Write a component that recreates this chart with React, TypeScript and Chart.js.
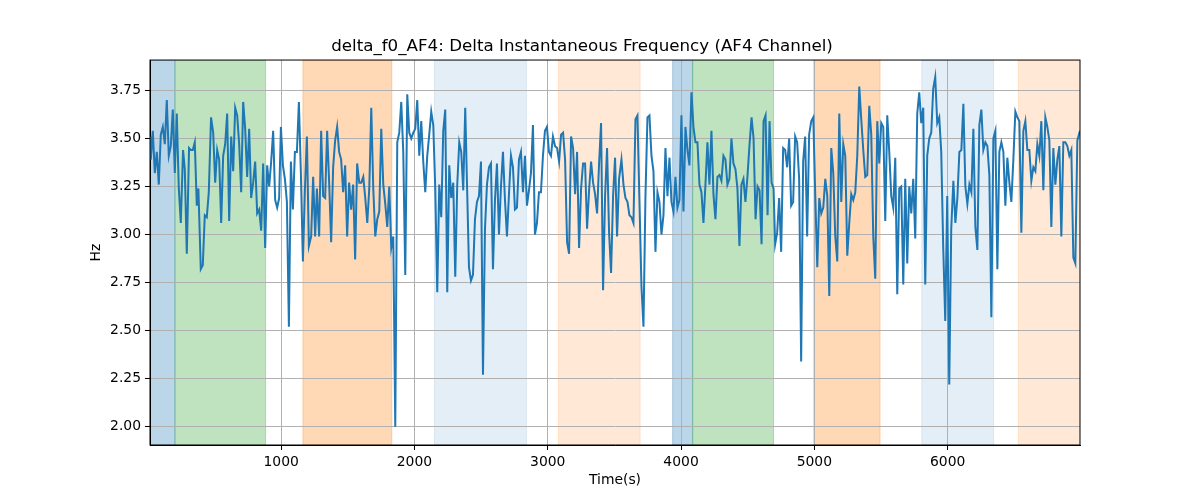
import React, { useEffect, useRef } from "react";
import { Chart, registerables } from "chart.js";

Chart.register(...registerables);

// time (s) and delta instantaneous frequency (Hz)
const timeS = [
  16, 22, 37, 52, 67, 82, 97, 112, 127, 142, 157, 172, 187, 202, 217, 232, 247, 264, 277, 292,
  309, 322, 337, 352, 367, 379, 397, 412, 427, 442, 457, 474, 490, 505, 520, 535, 550, 565, 580, 595,
  610, 625, 640, 655, 670, 685, 700, 715, 730, 745, 760, 775, 790, 805, 820, 835, 850, 865, 880, 895,
  910, 925, 940, 955, 970, 985, 998, 1013, 1028, 1043, 1058, 1073, 1088, 1103, 1118, 1133, 1148, 1163, 1178, 1193,
  1208, 1225, 1240, 1255, 1268, 1285, 1300, 1315, 1330, 1345, 1360, 1375, 1390, 1405, 1420, 1435, 1450, 1465, 1480, 1495,
  1510, 1525, 1540, 1555, 1570, 1586, 1601, 1616, 1631, 1646, 1661, 1676, 1691, 1706, 1721, 1736, 1751, 1766, 1781, 1796,
  1811, 1826, 1841, 1856, 1871, 1886, 1901, 1916, 1931, 1946, 1961, 1976, 1991, 2006, 2021, 2036, 2051, 2066, 2081, 2096,
  2111, 2126, 2141, 2156, 2171, 2186, 2201, 2216, 2231, 2246, 2261, 2276, 2291, 2306, 2321, 2336, 2351, 2366, 2381, 2394,
  2409, 2424, 2439, 2454, 2469, 2484, 2499, 2514, 2529, 2544, 2559, 2574, 2589, 2604, 2619, 2634, 2649, 2664, 2679, 2694,
  2709, 2724, 2739, 2754, 2769, 2784, 2799, 2814, 2829, 2844, 2859, 2874, 2889, 2904, 2919, 2934, 2949, 2964, 2979, 2994,
  3009, 3024, 3039, 3055, 3070, 3085, 3100, 3115, 3130, 3145, 3160, 3175, 3190, 3205, 3220, 3235, 3250, 3265, 3280, 3295,
  3310, 3325, 3340, 3355, 3370, 3385, 3400, 3415, 3430, 3445, 3460, 3475, 3490, 3505, 3520, 3535, 3553, 3568, 3583, 3598,
  3613, 3628, 3643, 3658, 3673, 3688, 3703, 3718, 3733, 3748, 3763, 3778, 3793, 3808, 3823, 3838, 3853, 3868, 3883, 3898,
  3913, 3928, 3943, 3958, 3973, 3988, 4003, 4018, 4033, 4048, 4063, 4078, 4093, 4108, 4123, 4138, 4153, 4168, 4183, 4198,
  4213, 4228, 4243, 4258, 4273, 4288, 4303, 4318, 4333, 4348, 4363, 4378, 4393, 4408, 4423, 4438, 4453, 4468, 4483, 4498,
  4513, 4529, 4544, 4559, 4574, 4589, 4604, 4619, 4634, 4649, 4664, 4679, 4694, 4706, 4721, 4736, 4751, 4766, 4781, 4796,
  4811, 4826, 4841, 4856, 4871, 4886, 4901, 4916, 4931, 4946, 4961, 4977, 4992, 5007, 5022, 5037, 5052, 5067, 5082, 5097,
  5112, 5127, 5142, 5157, 5172, 5187, 5202, 5217, 5232, 5247, 5262, 5277, 5292, 5307, 5322, 5337, 5352, 5367, 5382, 5397,
  5412, 5427, 5442, 5457, 5472, 5487, 5502, 5517, 5532, 5547, 5562, 5577, 5592, 5607, 5622, 5637, 5652, 5667, 5682, 5697,
  5712, 5727, 5742, 5757, 5772, 5787, 5802, 5817, 5832, 5847, 5862, 5877, 5892, 5907, 5922, 5937, 5952, 5967, 5982, 5997,
  6012, 6027, 6043, 6058, 6073, 6088, 6103, 6118, 6133, 6148, 6163, 6178, 6193, 6208, 6223, 6238, 6253, 6268, 6283, 6298,
  6313, 6328, 6343, 6358, 6373, 6388, 6403, 6418, 6433, 6448, 6463, 6478, 6493, 6508, 6523, 6538, 6553, 6568, 6583, 6598,
  6613, 6628, 6643, 6658, 6673, 6688, 6703, 6718, 6733, 6748, 6763, 6778, 6793, 6808, 6823, 6838, 6853, 6868, 6883, 6898,
  6913, 6928, 6943, 6958, 6973, 6993,
];

const deltaHz = [
  3.51, 3.39, 3.54, 3.32, 3.43, 3.26, 3.52, 3.56, 3.47, 3.70, 3.41, 3.46, 3.65, 3.32, 3.63, 3.24, 3.06, 3.44, 3.34, 2.90,
  3.45, 3.44, 3.44, 3.48, 3.15, 3.24, 2.82, 2.84, 3.10, 3.09, 3.22, 3.61, 3.53, 3.27, 3.44, 3.39, 3.06, 3.41, 3.47, 3.63,
  3.07, 3.51, 3.33, 3.66, 3.62, 3.47, 3.22, 3.69, 3.55, 3.30, 3.55, 3.19, 3.27, 3.38, 3.11, 3.13, 3.02, 3.37, 2.93, 3.36,
  3.25, 3.38, 3.54, 3.18, 3.14, 3.19, 3.56, 3.36, 3.29, 3.17, 2.52, 3.38, 3.13, 3.43, 3.43, 3.69, 3.32, 2.86, 3.23, 3.51,
  2.94, 2.99, 3.30, 2.99, 3.24, 2.99, 3.54, 3.20, 3.19, 3.54, 3.27, 2.96, 3.35, 3.49, 3.56, 3.43, 3.39, 3.22, 3.36, 2.99,
  3.27, 3.13, 3.26, 2.87, 3.37, 3.27, 3.27, 3.30, 3.19, 3.06, 3.24, 3.66, 3.24, 2.99, 3.08, 3.12, 3.55, 3.26, 3.16, 3.04,
  3.25, 2.93, 2.99, 2.00, 3.48, 3.53, 3.69, 3.43, 2.79, 3.73, 3.53, 3.50, 3.53, 3.55, 3.70, 3.41, 3.59, 3.38, 3.22, 3.41,
  3.52, 3.64, 3.57, 3.24, 2.70, 3.26, 3.09, 3.54, 3.65, 2.70, 3.36, 3.19, 3.27, 2.78, 3.26, 3.48, 3.43, 3.23, 3.66, 3.27,
  2.83, 2.76, 2.79, 3.08, 3.17, 3.20, 3.38, 2.27, 3.03, 3.26, 3.35, 3.37, 2.82, 3.18, 3.37, 3.00, 3.25, 3.43, 3.18, 2.99,
  3.21, 3.41, 3.35, 3.13, 3.14, 3.39, 3.43, 3.22, 3.41, 3.15, 3.23, 3.32, 3.57, 3.00, 3.06, 3.22, 3.22, 3.41, 3.54, 3.56,
  3.43, 3.41, 3.51, 3.46, 3.45, 3.38, 3.52, 3.53, 3.39, 2.96, 2.90, 3.51, 3.45, 3.21, 3.43, 2.93, 3.24, 3.37, 3.37, 3.03,
  3.23, 3.38, 3.27, 3.21, 3.11, 3.37, 3.58, 2.71, 3.20, 3.45, 3.01, 2.80, 3.20, 3.40, 2.99, 3.29, 3.39, 3.26, 3.19, 3.17,
  3.10, 3.09, 3.06, 3.60, 3.62, 3.17, 2.73, 2.52, 3.20, 3.61, 3.62, 3.41, 3.33, 2.91, 3.22, 3.17, 3.00, 3.10, 3.45, 3.20,
  3.40, 3.17, 3.12, 3.30, 3.14, 3.18, 3.62, 3.12, 3.56, 3.44, 3.36, 3.74, 3.56, 3.48, 3.48, 3.26, 3.22, 3.06, 3.26, 3.48,
  3.26, 3.54, 3.21, 3.08, 3.30, 3.31, 3.28, 3.41, 3.39, 3.26, 3.29, 3.50, 3.37, 3.34, 3.24, 2.94, 3.26, 3.29, 3.17, 3.30,
  3.46, 3.61, 3.50, 3.08, 3.25, 3.23, 2.95, 3.59, 3.62, 3.10, 3.59, 3.27, 3.24, 2.95, 3.01, 3.19, 2.91, 3.45, 3.44, 3.35,
  3.50, 3.15, 3.17, 3.51, 3.48, 3.29, 2.34, 3.38, 3.51, 2.99, 3.52, 3.59, 3.61, 3.20, 2.83, 3.19, 3.11, 3.14, 3.29, 3.20,
  2.68, 3.45, 3.32, 2.99, 2.86, 3.63, 3.17, 3.47, 3.41, 2.89, 3.06, 3.21, 3.18, 3.22, 3.41, 3.77, 3.60, 3.44, 3.30, 3.31,
  3.67, 3.52, 2.99, 2.77, 3.59, 3.37, 3.58, 3.56, 3.07, 3.62, 3.43, 3.20, 3.14, 3.40, 2.69, 3.24, 3.25, 2.74, 3.29, 2.85,
  3.25, 3.11, 3.29, 2.98, 3.63, 3.74, 3.58, 3.66, 2.74, 3.41, 3.50, 3.53, 3.76, 3.82, 3.58, 3.61, 3.43, 2.93, 2.55, 3.20,
  2.22, 3.03, 3.28, 3.06, 3.19, 3.43, 3.44, 3.68, 3.25, 3.16, 3.26, 3.22, 3.55, 3.04, 2.92, 3.57, 3.65, 3.44, 3.48, 3.46,
  3.31, 2.57, 3.50, 3.54, 2.82, 3.43, 3.48, 3.43, 3.15, 3.40, 3.27, 3.17, 3.39, 3.64, 3.61, 3.59, 3.01, 3.54, 3.59, 3.44,
  3.44, 3.28, 3.35, 3.33, 3.47, 3.41, 3.59, 3.23, 3.61, 3.56, 3.49, 3.04, 3.45, 3.26, 3.39, 3.46, 2.99, 3.48, 3.48, 3.46,
  3.41, 3.44, 2.88, 2.85, 3.49, 3.54,
];

// shaded time windows
const spanStart = [16, 203, 1163, 2150, 3080, 3937, 4087, 4995, 5806, 6530];
const spanEnd = [203, 883, 1830, 2840, 3693, 4087, 4694, 5493, 6345, 6993];
const spanKind = ["blue", "green", "orange", "lightblue", "lightorange", "blue", "green", "orange", "lightblue", "lightorange"];

const xTicks = [1000, 2000, 3000, 4000, 5000, 6000];
const yTicks = [2.0, 2.25, 2.5, 2.75, 3.0, 3.25, 3.5, 3.75];

const spanFill: Record<string, string> = {
  blue: "rgba(31,119,180,0.3)",
  green: "rgba(44,160,44,0.3)",
  orange: "rgba(255,127,14,0.3)",
  lightblue: "rgba(31,119,180,0.12)",
  lightorange: "rgba(255,127,14,0.17)",
};

const spansPlugin = {
  id: "spans",
  beforeDraw(chart: any) {
    const { ctx, chartArea, scales } = chart;
    ctx.save();
    ctx.beginPath();
    ctx.rect(chartArea.left, chartArea.top, chartArea.width, chartArea.height);
    ctx.clip();
    spanStart.forEach((s, i) => {
      const x0 = scales.x.getPixelForValue(s);
      const x1 = scales.x.getPixelForValue(spanEnd[i]);
      ctx.fillStyle = spanFill[spanKind[i]];
      ctx.fillRect(x0, chartArea.top, x1 - x0, chartArea.height);
      ctx.strokeStyle = spanFill[spanKind[i]];
      ctx.lineWidth = 1;
      ctx.strokeRect(x0, chartArea.top, x1 - x0, chartArea.height);
    });
    ctx.restore();
  },
  afterDatasetsDraw(chart: any) {
    // top/right spines
    const { ctx, chartArea } = chart;
    ctx.save();
    ctx.strokeStyle = "#000";
    ctx.lineWidth = 1;
    ctx.strokeRect(chartArea.left, chartArea.top, chartArea.width, chartArea.height);
    ctx.restore();
  },
};

function App() {
  const canvasRef = useRef<HTMLCanvasElement>(null);

  useEffect(() => {
    document.body.style.margin = "0";
    Chart.defaults.font.family = "'DejaVu Sans', sans-serif";
    Chart.defaults.color = "#000";

    const chart = new Chart(canvasRef.current!, {
      type: "line",
      data: {
        datasets: [
          {
            data: timeS.map((t, i) => ({ x: t, y: deltaHz[i] })),
            borderColor: "#1f77b4",
            borderWidth: 2,
            pointRadius: 0,
            tension: 0,
          },
        ],
      },
      options: {
        animation: false,
        responsive: true,
        maintainAspectRatio: false,
        layout: { padding: { left: 84, right: 120, top: 0, bottom: 0 } },
        plugins: {
          legend: { display: false },
          tooltip: { enabled: false },
          title: {
            display: true,
            text: "delta_f0_AF4: Delta Instantaneous Frequency (AF4 Channel)",
            font: { size: 16.7, weight: "normal" },
            color: "#000",
            padding: { top: 37, bottom: 3 },
          },
        },
        scales: {
          x: {
            type: "linear",
            min: 16,
            max: 6993,
            afterBuildTicks: (scale: any) => {
              scale.ticks = xTicks.map((v) => ({ value: v }));
            },
            afterFit: (scale: any) => {
              scale.height = 55;
            },
            ticks: { font: { size: 13.9 }, padding: 4, maxRotation: 0, callback: (v: any) => String(v) },
            grid: { color: "#b0b0b0", lineWidth: 1, tickLength: 5, tickColor: "#000" },
            border: { color: "#000", width: 1 },
            title: { display: true, text: "Time(s)", font: { size: 13.9 }, padding: { top: 0, bottom: 11 } },
          },
          y: {
            type: "linear",
            min: 1.905,
            max: 3.908,
            afterBuildTicks: (scale: any) => {
              scale.ticks = yTicks.map((v) => ({ value: v }));
            },
            afterFit: (scale: any) => {
              scale.width = 66;
            },
            ticks: { font: { size: 13.9 }, padding: 4, callback: (v: any) => Number(v).toFixed(2) },
            grid: { color: "#b0b0b0", lineWidth: 1, tickLength: 5, tickColor: "#000" },
            border: { color: "#000", width: 1 },
            title: { display: true, text: "Hz", font: { size: 13.9 }, padding: { top: 4, bottom: 0 } },
          },
        },
      },
      plugins: [spansPlugin],
    });

    return () => {
      chart.destroy();
    };
  }, []);

  return (
    <div style={{ width: "1200px", height: "500px", position: "relative" }}>
      <canvas ref={canvasRef} />
    </div>
  );
}

export default App;
